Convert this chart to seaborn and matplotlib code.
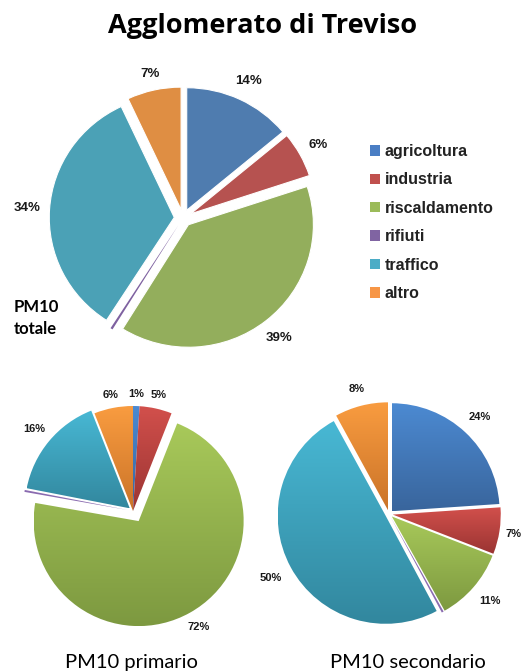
import numpy as np
import matplotlib
matplotlib.use("Agg")
import matplotlib.pyplot as plt
from matplotlib.colors import LinearSegmentedColormap
from matplotlib.patches import Patch
import seaborn as sns

# Emission sources of PM10
sectors = ["agricoltura", "industria", "riscaldamento", "rifiuti", "traffico", "altro"]
pm10_totale = [14, 6, 39, 0.3, 34, 7]
pm10_primario = [1, 5, 72, 0.3, 16, 6]
pm10_secondario = [24, 7, 11, 0.3, 50, 8]

title = "Agglomerato di Treviso"
label_totale = ["PM10", "totale"]
label_primario = "PM10 primario"
label_secondario = "PM10 secondario"

# Palettes: flat for the main pie, light/dark gradient pairs for the two small pies
legend_colors = sns.color_palette(["#4A7EC4", "#C0504D", "#9BBB59", "#8064A2", "#4BACC6", "#F79646"])
flat_colors = sns.color_palette(["#4F7CAF", "#B65250", "#93AE5C", "#7E61A0", "#4BA1B6", "#DF8E43"])
grad_light = ["#4C8AD2", "#D2504C", "#A8C95A", "#8A6BB0", "#48B8D4", "#F99C40"]
grad_dark = ["#39659C", "#9A3432", "#7D9940", "#634C80", "#32879E", "#CA7328"]

sns.set_theme(style="white")
plt.rcParams["font.family"] = ["Liberation Sans", "DejaVu Sans"]

W, H = 524, 672
fig = plt.figure(figsize=(W / 100, H / 100), dpi=100)
fig.patch.set_facecolor("white")
LIM = 1.5


def pie_axes(cx, cy, rx, ry):
    """Axes in which one data unit is rx by ry pixels, centred on (cx, cy) from the top-left."""
    w, h = 2 * LIM * rx, 2 * LIM * ry
    ax = fig.add_axes([(cx - w / 2) / W, 1 - (cy + h / 2) / H, w / W, h / H])
    ax.set_facecolor("none")
    return ax


def finish(ax):
    ax.set_xlim(-LIM, LIM)
    ax.set_ylim(-LIM, LIM)
    ax.set_aspect("auto")
    ax.axis("off")


def pct_label(pct):
    return f"{pct:.0f}%" if pct >= 0.5 else ""


def draw_pie(ax, values, colors, explode, fontsize, rx, ry, pad_px, edge_lw):
    wedges, _, autotexts = ax.pie(
        values, explode=explode, colors=colors, startangle=90, counterclock=False,
        autopct=pct_label, pctdistance=1.2,
        wedgeprops=dict(edgecolor="white", linewidth=edge_lw),
        textprops=dict(fontsize=fontsize, fontweight="bold", color="#1a1a1a",
                       family=["Liberation Sans", "DejaVu Sans"]),
    )
    finish(ax)
    # thin slices keep their colour without a white outline
    for w, v in zip(wedges, values):
        if v < 0.5:
            w.set_linewidth(0)
    # put each percentage just outside its slice, allowing for the text's size
    renderer = fig.canvas.get_renderer()
    for w, t in zip(wedges, autotexts):
        t.set_ha("center")
        t.set_va("center")
        if not t.get_text():
            continue
        th = np.deg2rad((w.theta1 + w.theta2) / 2)
        bb = t.get_window_extent(renderer)
        hw, hh = bb.width / 2, bb.height / 2
        c, s = np.cos(th), np.sin(th)
        ext = hw * abs(c) + hh * abs(s) + pad_px
        x = w.center[0] + w.r * c + ext * c / rx
        y = w.center[1] + w.r * s + ext * s / ry
        t.set_position((x, y))
        # keep the label inside the figure
        bb = t.get_window_extent(renderer)
        overflow = bb.x1 - (W - 2)
        if overflow > 0:
            t.set_position((x - overflow / rx, y))
    return wedges


def shade(ax, wedges, values):
    """Fill each slice with a vertical gradient, light at the top and dark at the bottom."""
    grad = np.linspace(0, 1, 256).reshape(-1, 1)
    for w, v, c0, c1 in zip(wedges, values, grad_light, grad_dark):
        if v < 0.5:
            continue
        bb = w.get_path().get_extents()
        cmap = LinearSegmentedColormap.from_list("slice", [c1, c0])
        im = ax.imshow(grad, cmap=cmap, origin="lower", aspect="auto",
                       extent=(bb.x0, bb.x1, bb.y0, bb.y1), interpolation="bilinear",
                       zorder=w.get_zorder())
        im.set_clip_path(w)
        w.set_facecolor("none")
    finish(ax)


# main pie
RX0, RY0 = 125, 122.5
ax0 = pie_axes(183, 218, RX0, RY0)
draw_pie(ax0, pm10_totale, flat_colors, [0.07] * 6, 9.5, RX0, RY0, 9, 0.8)

# primary PM10
RX1 = RY1 = 105
ax1 = pie_axes(133, 511, RX1, RY1)
w1 = draw_pie(ax1, pm10_primario, grad_light, [0.0, 0.0, 0.11, 0.05, 0.04, 0.0], 8, RX1, RY1, 7, 1.3)
shade(ax1, w1, pm10_primario)

# secondary PM10
RX2 = RY2 = 108
ax2 = pie_axes(389, 514, RX2, RY2)
w2 = draw_pie(ax2, pm10_secondario, grad_light, [0.035] * 6, 8, RX2, RY2, 10, 0.8)
shade(ax2, w2, pm10_secondario)

# legend for the main pie
handles = [Patch(facecolor=c, edgecolor="none") for c in legend_colors]
fig.legend(handles, sectors, loc="upper left", bbox_to_anchor=(370 / W, 1 - 144 / H),
           frameon=False, prop=dict(family=["Liberation Sans"], weight="bold", size=11.5),
           labelcolor="#222222", handlelength=0.62, handleheight=0.62, handletextpad=0.3,
           labelspacing=0.84, borderpad=0, borderaxespad=0)

# titles
fig.text(263 / W, 1 - 33 / H, title, ha="center", va="baseline", fontsize=19.5,
         fontweight="bold", family=["Open Sans", "DejaVu Sans"], color="black")
fig.text(14 / W, 1 - 312 / H, label_totale[0], ha="left", va="baseline", fontsize=12,
         fontweight="bold", family=["Lato", "DejaVu Sans"], color="black")
fig.text(14 / W, 1 - 334 / H, label_totale[1], ha="left", va="baseline", fontsize=12,
         fontweight="bold", family=["Lato", "DejaVu Sans"], color="black")
fig.text(131 / W, 1 - 668 / H, label_primario, ha="center", va="baseline", fontsize=14.5,
         family=["Lato", "DejaVu Sans"], color="black")
fig.text(408 / W, 1 - 668 / H, label_secondario, ha="center", va="baseline", fontsize=14.5,
         family=["Lato", "DejaVu Sans"], color="black")

fig.savefig("out.png", dpi=100)
